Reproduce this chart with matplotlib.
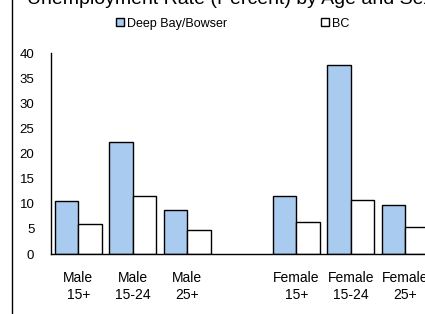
import numpy as np
import matplotlib
matplotlib.use("Agg")
import matplotlib.pyplot as plt
from matplotlib.lines import Line2D

plt.rcParams["font.family"] = ["Liberation Sans", "DejaVu Sans"]

# ============ Data ============
categories = ["Male\n15+", "Male\n15-24", "Male\n25+", "",
              "Female\n15+", "Female\n15-24", "Female\n25+"]
deep_bay = [10.6, 22.3, 8.8, np.nan, 11.6, 37.7, 9.8]
bc       = [5.9, 11.5, 4.8, np.nan, 6.3, 10.7, 5.4]
BLUE = "#a9cbf0"

fig = plt.figure(figsize=(4.25, 3.14), dpi=100)
ax = fig.add_axes([0.12, 0.191, 0.898, 0.640])

x = np.arange(len(categories))
w = 0.43
ax.bar(x - w/2, deep_bay, w, color=BLUE, edgecolor="black", linewidth=1.0, label="Deep Bay/Bowser")
ax.bar(x + w/2, bc, w, color="white", edgecolor="black", linewidth=1.0, label="BC")

ax.set_xlim(-0.5, 6.5)
ax.set_ylim(0, 40)
ax.set_yticks(range(0, 41, 5))
ax.set_xticks(x)
ax.set_xticklabels(categories, fontsize=10, linespacing=1.25)
ax.tick_params(axis="both", length=0)
ax.tick_params(axis="y", pad=12, labelsize=9.5)
ax.tick_params(axis="x", pad=12.5)
for s in ["top", "right"]:
    ax.spines[s].set_visible(False)
ax.spines["left"].set_linewidth(1.0)
ax.spines["bottom"].set_linewidth(1.0)

fig.legend(loc="center", bbox_to_anchor=(0.548, 0.925), ncol=2, frameon=False,
           fontsize=9, handlelength=0.6, handleheight=0.6, handletextpad=0.3,
           columnspacing=7.5, borderaxespad=0)

fig.text(0.063, 0.986, "Unemployment Rate (Percent) by Age and Sex", fontsize=14,
         ha="left", va="baseline")
fig.add_artist(Line2D([0.028, 0.028], [0, 1], color="black", linewidth=1.0,
                      transform=fig.transFigure))

fig.savefig("out.png", dpi=100)
